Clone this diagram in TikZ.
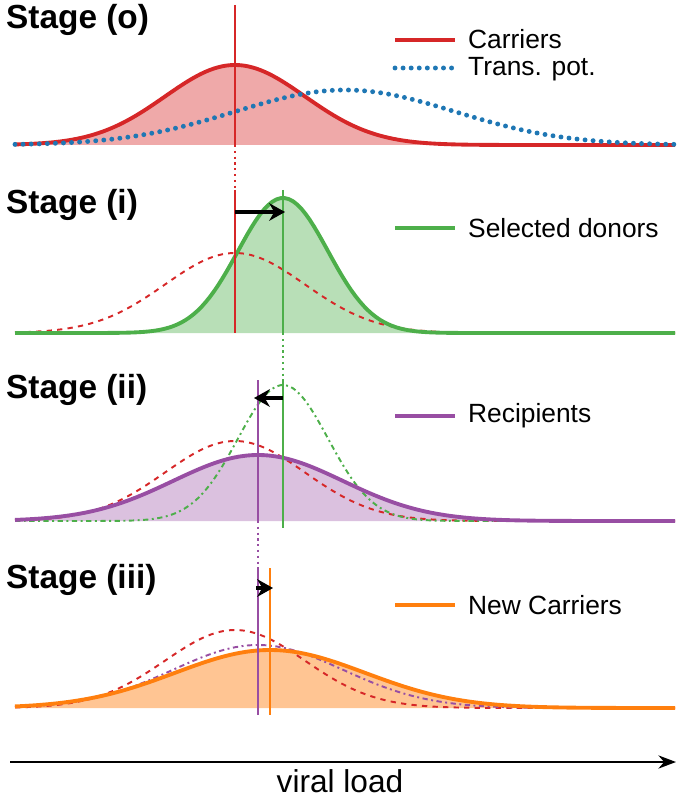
\documentclass[tikz,border=0pt]{standalone}
\usepackage{fontspec}
\setmainfont{Liberation Sans}
\usetikzlibrary{arrows.meta}
\definecolor{cred}{RGB}{214,39,40}
\definecolor{cblue}{RGB}{31,119,180}
\definecolor{cgreen}{RGB}{77,175,74}
\definecolor{cpurple}{RGB}{152,78,163}
\definecolor{corange}{RGB}{255,127,14}
\begin{document}
\begin{tikzpicture}[x=0.02cm,y=-0.02cm,
   declare function={g(\x,\m,\s)=exp(-((\x-\m)/\s)^2/2);},
   curve/.style={line width=2.2pt,samples=160,domain=15:675},
   thin curve/.style={line width=1.1pt,samples=160,domain=15:675},
   dots/.style={line width=2.8pt,line cap=round,dash pattern=on 0pt off 4.6pt},
   vline/.style={line width=1.3pt},
   shift arrow/.style={-{Stealth[length=9pt,width=10pt]},line width=2.2pt,black},
   stage/.style={font=\bfseries\fontsize{19}{19}\selectfont,anchor=west},
   legend/.style={font=\fontsize{15}{15}\selectfont,anchor=west,inner ysep=1pt}]
   \useasboundingbox (0,0) rectangle (690,800);

   % stage labels
   \node[stage] (s0) at (0,20) {Stage (o)};
   \node[stage] (s1) at (0,205) {Stage (i)};
   \node[stage] (s2) at (0,390) {Stage (ii)};
   \node[stage] (s3) at (0,580) {Stage (iii)};

   % stage o
   \fill[cred!40] plot[samples=160,domain=15:675] (\x,{145-80*g(\x,235,70)}) -- (675,145) -- (15,145) -- cycle;
   \draw[curve,cred] plot (\x,{145-80*g(\x,235,70)});
   \draw[curve,cblue,dots] plot (\x,{145-55*g(\x,345,110)});

   % stage i
   \fill[cgreen!40] plot[samples=160,domain=15:675] (\x,{333-135*g(\x,283,45)}) -- (675,333) -- (15,333) -- cycle;
   \draw[thin curve,cred,dashed] plot (\x,{333-80*g(\x,235,70)});
   \draw[curve,cgreen] plot (\x,{333-135*g(\x,283,45)});

   % stage ii
   \fill[cpurple!35] plot[samples=160,domain=15:675] (\x,{521-66*g(\x,258,85)}) -- (675,521) -- (15,521) -- cycle;
   \draw[thin curve,cred,dashed] plot (\x,{521-80*g(\x,235,70)});
   \draw[thin curve,cgreen,dash dot] plot (\x,{521-136*g(\x,283,45)});
   \draw[curve,cpurple] plot (\x,{521-66*g(\x,258,85)});

   % stage iii
   \fill[corange!45] plot[samples=160,domain=15:675] (\x,{708-58*g(\x,270,95)}) -- (675,708) -- (15,708) -- cycle;
   \draw[thin curve,cred,dashed] plot (\x,{708-78*g(\x,235,70)});
   \draw[thin curve,cpurple,dash dot] plot (\x,{708-63*g(\x,258,85)});
   \draw[curve,corange] plot (\x,{708-58*g(\x,270,95)});

   % means
   \coordinate (r0) at (235,5);
   \coordinate (r1) at (235,145);
   \coordinate (r2) at (235,190);
   \coordinate (r3) at (235,333);
   \draw[vline,cred] (r0) -- (r1);
   \draw[vline,cred,dotted] (r1) -- (r2);
   \draw[vline,cred] (r2) -- (r3);
   \coordinate (g0) at (283,190);
   \coordinate (g1) at (283,333);
   \coordinate (g2) at (283,380);
   \coordinate (g3) at (283,528);
   \draw[vline,cgreen] (g0) -- (g1);
   \draw[vline,cgreen,dotted] (g1) -- (g2);
   \draw[vline,cgreen] (g2) -- (g3);
   \coordinate (p0) at (258,380);
   \coordinate (p1) at (258,521);
   \coordinate (p2) at (258,568);
   \coordinate (p3) at (258,715);
   \draw[vline,cpurple] (p0) -- (p1);
   \draw[vline,cpurple,dotted] (p1) -- (p2);
   \draw[vline,cpurple] (p2) -- (p3);
   \coordinate (o0) at (270,568);
   \coordinate (o1) at (270,715);
   \draw[vline,corange] (o0) -- (o1);

   % shifts
   \coordinate (a1) at (235,212);
   \coordinate (b1) at (285,212);
   \draw[shift arrow] (a1) -- (b1);
   \coordinate (a2) at (283,398);
   \coordinate (b2) at (254,398);
   \draw[shift arrow] (a2) -- (b2);
   \coordinate (a3) at (256,588);
   \coordinate (b3) at (273,588);
   \draw[shift arrow] (a3) -- (b3);

   % legend
   \draw[line width=2.2pt,cred] (395,40) -- (455,40);
   \node[legend] (lcar) at (462,39) {Carriers};
   \draw[line width=2.8pt,cblue,dots] (395,68) -- (455,68);
   \node[legend] (ltp) at (462,69) {Trans. pot.};
   \draw[line width=2.2pt,cgreen] (395,228) -- (455,228);
   \node[legend] (lsd) at (462,228) {Selected donors};
   \draw[line width=2.2pt,cpurple] (395,416) -- (455,416);
   \node[legend] (lrec) at (462,416) {Recipients};
   \draw[line width=2.2pt,corange] (395,605) -- (455,605);
   \node[legend] (lnc) at (462,605) {New Carriers};

   % axis
   \coordinate (x0) at (10,762);
   \coordinate (x1) at (676,762);
   \draw[-{Stealth[length=10pt]},line width=1.2pt] (x0) -- (x1);
   \node[font=\fontsize{18}{18}\selectfont] (xl) at (340,781) {viral load};
\end{tikzpicture}
\end{document}
